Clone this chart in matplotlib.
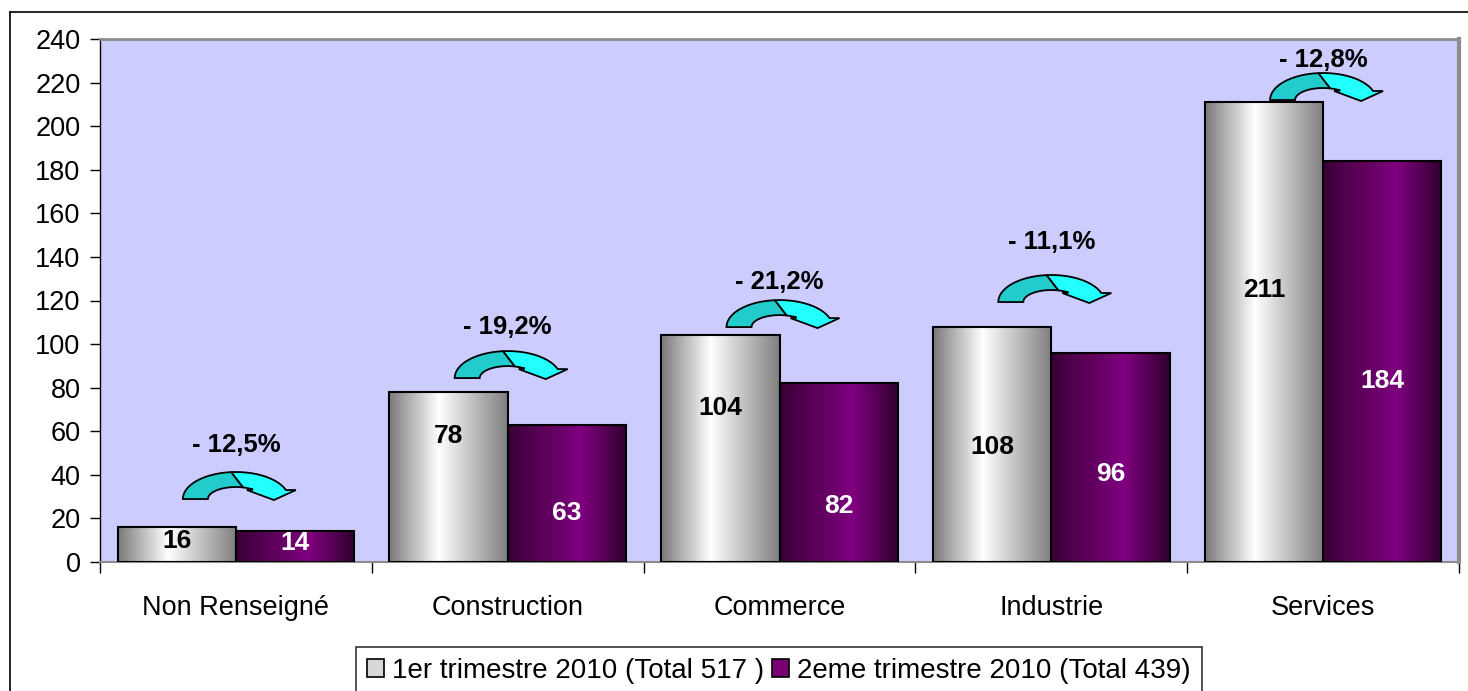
import numpy as np
import matplotlib.pyplot as plt
from matplotlib.patches import Patch, Polygon
from matplotlib.lines import Line2D
from matplotlib.colors import LinearSegmentedColormap
from matplotlib.transforms import Affine2D, ScaledTranslation

plt.rcParams['font.family'] = ['Liberation Sans', 'DejaVu Sans']

categories = ['Non Renseigné', 'Construction', 'Commerce', 'Industrie', 'Services']
t1 = [16, 78, 104, 108, 211]
t2 = [14, 63, 82, 96, 184]
# hauteur des étiquettes de valeur (placées à la main dans l'original)
t1_label_y = [9.5, 58, 70.5, 53, 125]
t2_label_y = [8.5, 22.5, 25.5, 40.5, 83]
evolution = ['- 12,5%', '- 19,2%', '- 21,2%', '- 11,1%', '- 12,8%']
evolution_y = [53.7, 107.8, 128.5, 146.8, 230.4]
arrow_y = [28.9, 84.4, 107.8, 119.3, 212]
legend_labels = ['1er trimestre 2010 (Total 517 )', '2eme trimestre 2010 (Total 439)']
yticks = np.arange(0, 241, 20)

silver = LinearSegmentedColormap.from_list('silver', [(0, '#7a7a7a'), (0.42, '#ffffff'), (1, '#7f7f7f')])
purple = LinearSegmentedColormap.from_list('purple', [(0, '#3a0036'), (0.62, '#800080'), (1, '#2e002c')])


def curved_arrow():
    # forme de la flèche courbe, en pixels, origine au pied de l'arc
    rx_o, ry_o, rx_i, ry_i = 53, 27, 28, 12
    t_end_o = np.degrees(np.arcsin(9 / ry_o))
    t_end_i = np.degrees(np.arcsin(9.5 / ry_i))
    ell = lambda rx, ry, a, b: [(rx * np.cos(np.radians(t)), ry * np.sin(np.radians(t)))
                                for t in np.linspace(a, b, 40)]
    back = ell(rx_o, ry_o, 180, 95) + ell(rx_i, ry_i, 75, 180)
    front = (ell(rx_o, ry_o, 95, t_end_o) + [(60, 9), (38, -1), (11, 9)]
             + ell(rx_i, ry_i, t_end_i, 75))
    return np.array(back), np.array(front)


fig = plt.figure(figsize=(14.68, 6.91), dpi=100)
ax = fig.add_axes([100 / 1468, 1 - 562 / 691, 1359 / 1468, 523 / 691])
ax.set_facecolor('#ccccff')

x = np.arange(len(categories))
w = 0.435
b1 = ax.bar(x - w / 2, t1, w, facecolor='none', edgecolor='black', linewidth=1.5, zorder=3)
b2 = ax.bar(x + w / 2, t2, w, facecolor='none', edgecolor='black', linewidth=1.5, zorder=3)

grad = np.linspace(0, 1, 256).reshape(1, -1)
for bars, cmap in ((b1, silver), (b2, purple)):
    for p in bars:
        x0, y0 = p.get_x(), p.get_y()
        ax.imshow(grad, cmap=cmap, extent=[x0, x0 + p.get_width(), y0, y0 + p.get_height()],
                  aspect='auto', zorder=2, interpolation='bilinear')

back, front = curved_arrow()
for i in range(len(categories)):
    ax.text(i - w / 2, t1_label_y[i], str(t1[i]), ha='center', va='center',
            fontsize=19, fontweight='bold', color='black', zorder=4)
    ax.text(i + w / 2, t2_label_y[i], str(t2[i]), ha='center', va='center',
            fontsize=19, fontweight='bold', color='white', zorder=4)
    ax.text(i, evolution_y[i], evolution[i], ha='center', va='center',
            fontsize=18.5, fontweight='bold', zorder=4)
    tr = Affine2D() + ScaledTranslation(i, arrow_y[i], ax.transData)
    ax.add_patch(Polygon(back, closed=True, facecolor='#22cccc', edgecolor='black',
                         linewidth=1.3, transform=tr, zorder=4))
    ax.add_patch(Polygon(front, closed=True, facecolor='#22ffff', edgecolor='black',
                         linewidth=1.3, transform=tr, zorder=4))

ax.set_xlim(-0.5, len(categories) - 0.5)
ax.set_ylim(0, 240)
ax.set_yticks(yticks)
ax.tick_params(axis='y', labelsize=19.5, direction='out', length=7, width=1, pad=7)
ax.set_xticks(np.arange(-0.5, len(categories)), labels=[])
ax.set_xticks(x, labels=categories, minor=True)
ax.tick_params(axis='x', which='major', direction='out', length=8, width=1)
ax.tick_params(axis='x', which='minor', length=0, labelsize=19.5, pad=24)

ax.spines['left'].set_color('black')
ax.spines['left'].set_linewidth(1)
ax.spines['bottom'].set_color('#8c8c8c')
ax.spines['bottom'].set_linewidth(1.5)
ax.spines['top'].set_color('#8c8c8c')
ax.spines['top'].set_linewidth(2)
ax.spines['right'].set_color('#8c8c8c')
ax.spines['right'].set_linewidth(3)

# cadre extérieur du graphique
fig.add_artist(Line2D([10 / 1468, 10 / 1468], [0, 1 - 12 / 691], transform=fig.transFigure,
                      color='black', linewidth=1.2))
fig.add_artist(Line2D([10 / 1468, 1], [1 - 12 / 691, 1 - 12 / 691], transform=fig.transFigure,
                      color='black', linewidth=1.2))

handles = [Patch(facecolor='#d8d8d8', edgecolor='black', linewidth=1.2),
           Patch(facecolor='#7a0074', edgecolor='black', linewidth=1.2)]
leg = fig.legend(handles, legend_labels, loc='center', bbox_to_anchor=(779 / 1468, 1 - 671 / 691),
                 ncol=2, fontsize=20, frameon=True, fancybox=False, edgecolor='black',
                 handlelength=0.6, handleheight=0.6, handletextpad=0.3, columnspacing=0.3,
                 borderpad=0.4)
leg.get_frame().set_linewidth(1.2)

fig.savefig('out.png', dpi=100)
